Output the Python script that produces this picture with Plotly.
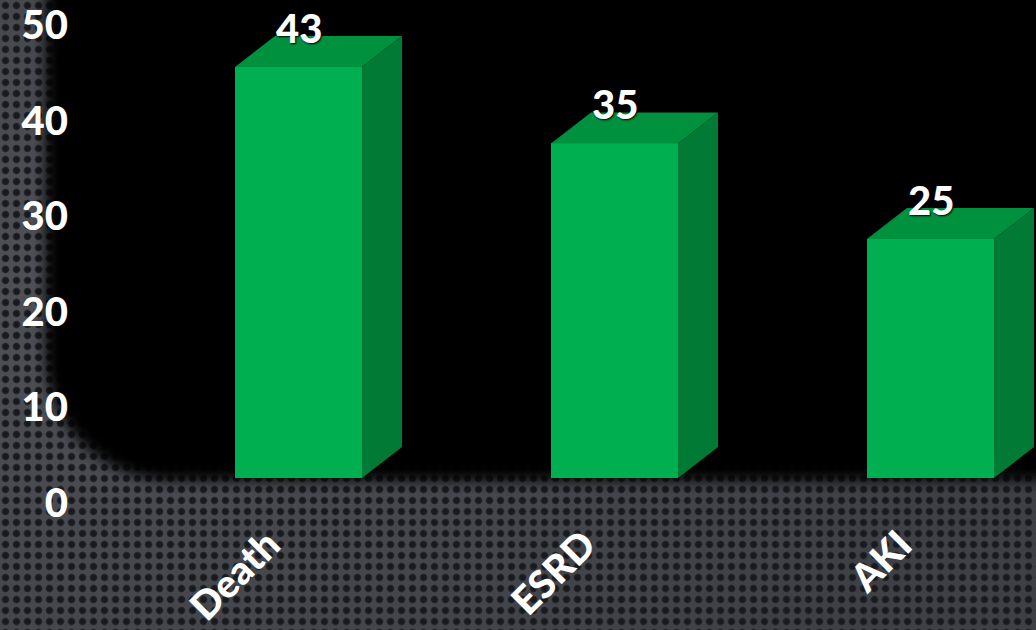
import base64
import plotly.graph_objects as go

# Outcome counts
categories = ["Death", "ESRD", "AKI"]
values = [43, 35, 25]
y_ticks = [0, 10, 20, 30, 40, 50]

W, H = 1036, 630

# Geometry of the pseudo-3D columns (pixels)
PX_PER_CAT = 316.0       # horizontal distance between category centres
PX_PER_UNIT = 9.56       # vertical pixels per value unit
PLOT_LEFT = 76           # left edge of the plotting area
PLOT_BOTTOM = 510        # bottom edge of the plotting area
ZERO_PX = 503            # y pixel of the 0 tick label
FLOOR_LIFT = 25          # column floor sits above the label baseline (perspective)
DEPTH_X, DEPTH_Y = 40, 31
BAR_W = 0.402            # in category units

first_center_px = 298.5
x_lo = -(first_center_px - PLOT_LEFT) / PX_PER_CAT
x_hi = x_lo + (W - PLOT_LEFT) / PX_PER_CAT

y_top = ZERO_PX / PX_PER_UNIT
y_bot = -(PLOT_BOTTOM - ZERO_PX) / PX_PER_UNIT
lift = FLOOR_LIFT / PX_PER_UNIT

dx = DEPTH_X / PX_PER_CAT
dy = DEPTH_Y / PX_PER_UNIT

FRONT = "#00B050"
TOP = "#00913F"
SIDE = "#007A34"

FONT = "Lato"

# Backdrop: perforated dark metal with a black rounded panel
svg = f"""<svg xmlns="http://www.w3.org/2000/svg" width="{W}" height="{H}" viewBox="0 0 {W} {H}">
<defs>
<radialGradient id="hole">
<stop offset="0" stop-color="#16171a"/>
<stop offset="0.65" stop-color="#1c1d21"/>
<stop offset="1" stop-color="#1c1d21" stop-opacity="0"/>
</radialGradient>
<pattern id="holes" width="11" height="11" patternUnits="userSpaceOnUse">
<circle cx="5.5" cy="5.5" r="4.4" fill="url(#hole)"/>
</pattern>
<radialGradient id="sheen" cx="0.05" cy="0.45" r="0.9">
<stop offset="0" stop-color="#4e5056"/>
<stop offset="1" stop-color="#3e4045"/>
</radialGradient>
<filter id="soft" x="-10%" y="-10%" width="120%" height="130%">
<feGaussianBlur stdDeviation="7"/>
</filter>
</defs>
<rect width="{W}" height="{H}" fill="url(#sheen)"/>
<rect width="{W}" height="{H}" fill="url(#holes)"/>
<rect x="46" y="-120" width="1120" height="600" rx="125" ry="125" fill="#000" filter="url(#soft)"/>
</svg>"""
bg_uri = "data:image/svg+xml;base64," + base64.b64encode(svg.encode()).decode()

fig = go.Figure()

# Front faces (floor raised by the perspective lift)
fig.add_trace(go.Bar(
    x=list(range(len(categories))), y=values, base=lift, width=BAR_W,
    marker=dict(color=FRONT, line=dict(width=0)),
    hoverinfo="skip", showlegend=False,
))

# Top and side faces
for i, v in enumerate(values):
    l, r = i - BAR_W / 2, i + BAR_W / 2
    t = v + lift
    fig.add_trace(go.Scatter(
        x=[l, r, r + dx, l + dx, l], y=[t, t, t + dy, t + dy, t],
        fill="toself", fillcolor=TOP, mode="lines", line=dict(width=0),
        hoverinfo="skip", showlegend=False,
    ))
    fig.add_trace(go.Scatter(
        x=[r, r + dx, r + dx, r, r], y=[lift, lift + dy, t + dy, t, lift],
        fill="toself", fillcolor=SIDE, mode="lines", line=dict(width=0),
        hoverinfo="skip", showlegend=False,
    ))

# Value labels
for i, v in enumerate(values):
    fig.add_annotation(
        x=i, y=v + lift, text=str(v), showarrow=False,
        yshift=39, xanchor="center", yanchor="middle",
        font=dict(family=FONT, size=40, color="white", weight=900,
                  shadow="1px 1px 2px #000"),
    )

fig.update_layout(
    width=W, height=H,
    margin=dict(l=0, r=0, t=0, b=0, autoexpand=False),
    paper_bgcolor="#3e4045", plot_bgcolor="rgba(0,0,0,0)",
    images=[dict(source=bg_uri, xref="paper", yref="paper", x=0, y=1,
                 sizex=1, sizey=1, xanchor="left", yanchor="top",
                 sizing="stretch", layer="below")],
    xaxis=dict(
        domain=[PLOT_LEFT / W, 1], range=[x_lo, x_hi],
        tickvals=list(range(len(categories))), ticktext=categories,
        tickangle=-45, ticks="", showgrid=False, zeroline=False, showline=False,
        tickfont=dict(family=FONT, size=39, color="white", weight=900),
        ticklabelstandoff=3, ticklabelshift=-30, ticklabeloverflow="allow",
        automargin=False,
    ),
    yaxis=dict(
        domain=[(H - PLOT_BOTTOM) / H, 1], range=[y_bot, y_top],
        tickvals=y_ticks, ticks="", showgrid=False, zeroline=False, showline=False,
        tickfont=dict(family=FONT, size=40, color="white", weight=900),
        ticklabelstandoff=7, ticklabeloverflow="allow", automargin=False,
    ),
    bargap=0,
)

fig.write_html("out.html")
